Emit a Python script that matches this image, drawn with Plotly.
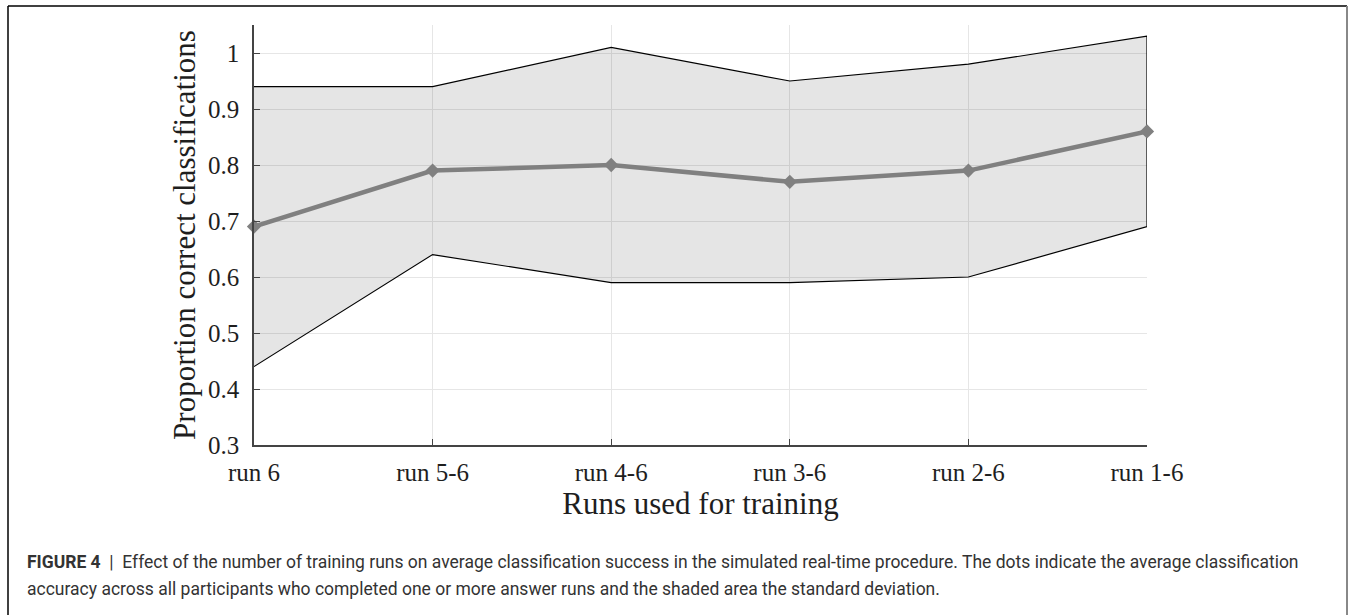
import plotly.graph_objects as go

categories = ["run 6", "run 5-6", "run 4-6", "run 3-6", "run 2-6", "run 1-6"]
mean_acc = [0.69, 0.79, 0.80, 0.77, 0.79, 0.86]
upper_sd = [0.94, 0.94, 1.01, 0.95, 0.98, 1.03]
lower_sd = [0.44, 0.64, 0.59, 0.59, 0.60, 0.69]
y_ticks = [0.3, 0.4, 0.5, 0.6, 0.7, 0.8, 0.9, 1.0]
y_tick_labels = ["0.3", "0.4", "0.5", "0.6", "0.7", "0.8", "0.9", "1"]

W, H = 1354, 615
L, R, T, B = 254, 207, 25, 170
pw, ph = W - L - R, H - T - B

def px(x):
    return (x - L) / pw

def py(y):
    return (H - B - y) / ph

idx = list(range(len(categories)))
serif = "Liberation Serif, DejaVu Serif, serif"
txt = "#1e1e1e"

fig = go.Figure()
fig.add_trace(go.Scatter(
    x=idx + idx[::-1],
    y=upper_sd + lower_sd[::-1],
    fill="toself",
    fillcolor="rgba(0,0,0,0.1)",
    line=dict(color="black", width=1.2),
    mode="lines",
    hoverinfo="skip",
    showlegend=False,
))
fig.add_trace(go.Scatter(
    x=idx, y=mean_acc,
    mode="lines+markers",
    line=dict(color="#808080", width=4.5),
    marker=dict(symbol="diamond", size=11, color="#808080"),
    cliponaxis=False,
    showlegend=False,
))

fig.update_layout(
    width=W, height=H,
    margin=dict(l=L, r=R, t=T, b=B),
    plot_bgcolor="white", paper_bgcolor="white",
    font=dict(family=serif, color=txt),
    xaxis=dict(
        range=[0, 5], tickvals=idx, ticktext=categories,
        showgrid=True, gridcolor="#e6e6e6", gridwidth=1,
        showline=True, linecolor="#444444", linewidth=1.5,
        ticks="inside", ticklen=6, tickcolor="#444444",
        tickfont=dict(size=25, family=serif, color=txt),
        ticklabelstandoff=4,
        title=dict(text="Runs used for training", font=dict(size=31, family=serif, color=txt), standoff=6),
        zeroline=False, mirror=False,
    ),
    yaxis=dict(
        range=[0.3, 1.05], tickvals=y_ticks, ticktext=y_tick_labels,
        showgrid=True, gridcolor="#e6e6e6", gridwidth=1,
        showline=True, linecolor="#444444", linewidth=1.5,
        ticks="inside", ticklen=6, tickcolor="#444444",
        tickfont=dict(size=25, family=serif, color=txt),
        ticklabelstandoff=8,
        title=dict(text="Proportion correct classifications", font=dict(size=31, family=serif, color=txt), standoff=3),
        zeroline=False,
    ),
)

# outer frame
fig.add_shape(type="line", xref="paper", yref="paper",
              x0=px(8), y0=py(6), x1=px(1347), y1=py(6),
              line=dict(color="black", width=1.5))
fig.add_shape(type="line", xref="paper", yref="paper",
              x0=px(8), y0=py(6), x1=px(8), y1=py(616),
              line=dict(color="black", width=1.5))
fig.add_shape(type="line", xref="paper", yref="paper",
              x0=px(1347), y0=py(6), x1=px(1347), y1=py(616),
              line=dict(color="#888888", width=2))

sans = "Roboto, Liberation Sans, sans-serif"
fig.add_annotation(
    xref="paper", yref="paper", x=px(25), y=py(562), xanchor="left", yanchor="middle",
    text="<b>FIGURE 4</b>  |  Effect of the number of training runs on average classification success in the simulated real-time procedure. The dots indicate the average classification",
    showarrow=False, font=dict(family=sans, size=17.5, color="#333333"), align="left",
)
fig.add_annotation(
    xref="paper", yref="paper", x=px(25), y=py(589), xanchor="left", yanchor="middle",
    text="accuracy across all participants who completed one or more answer runs and the shaded area the standard deviation.",
    showarrow=False, font=dict(family=sans, size=17.5, color="#333333"), align="left",
)

fig.write_html("out.html")
